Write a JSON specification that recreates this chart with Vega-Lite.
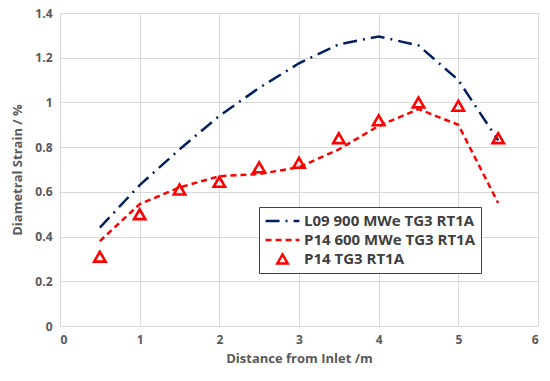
{
  "$schema": "https://vega.github.io/schema/vega-lite/v6.json",
  "width": 478,
  "height": 313,
  "autosize": {"type": "none"},
  "padding": {"left": 60, "top": 13, "right": 12, "bottom": 55},
  "background": "white",
  "config": {
    "view": {"stroke": null},
    "font": "Open Sans",
    "axis": {
      "labelFont": "Open Sans", "labelFontWeight": "bold", "labelColor": "#595959", "labelFontSize": 12,
      "titleFont": "Open Sans", "titleFontWeight": "bold", "titleColor": "#595959", "titleFontSize": 13,
      "gridColor": "#d9d9d9", "domainColor": "#d9d9d9", "ticks": false, "labelPadding": 8
    }
  },
  "datasets": {
    "lines": [
      {"x": 0.5, "y": 0.44, "series": "L09 900 MWe TG3 RT1A"},
      {"x": 1.0, "y": 0.63, "series": "L09 900 MWe TG3 RT1A"},
      {"x": 1.5, "y": 0.79, "series": "L09 900 MWe TG3 RT1A"},
      {"x": 2.0, "y": 0.94, "series": "L09 900 MWe TG3 RT1A"},
      {"x": 2.5, "y": 1.065, "series": "L09 900 MWe TG3 RT1A"},
      {"x": 3.0, "y": 1.175, "series": "L09 900 MWe TG3 RT1A"},
      {"x": 3.5, "y": 1.26, "series": "L09 900 MWe TG3 RT1A"},
      {"x": 4.0, "y": 1.295, "series": "L09 900 MWe TG3 RT1A"},
      {"x": 4.5, "y": 1.255, "series": "L09 900 MWe TG3 RT1A"},
      {"x": 5.0, "y": 1.1, "series": "L09 900 MWe TG3 RT1A"},
      {"x": 5.5, "y": 0.83, "series": "L09 900 MWe TG3 RT1A"},
      {"x": 0.5, "y": 0.38, "series": "P14 600 MWe TG3 RT1A"},
      {"x": 1.0, "y": 0.545, "series": "P14 600 MWe TG3 RT1A"},
      {"x": 1.5, "y": 0.62, "series": "P14 600 MWe TG3 RT1A"},
      {"x": 2.0, "y": 0.67, "series": "P14 600 MWe TG3 RT1A"},
      {"x": 2.5, "y": 0.68, "series": "P14 600 MWe TG3 RT1A"},
      {"x": 3.0, "y": 0.71, "series": "P14 600 MWe TG3 RT1A"},
      {"x": 3.5, "y": 0.79, "series": "P14 600 MWe TG3 RT1A"},
      {"x": 4.0, "y": 0.895, "series": "P14 600 MWe TG3 RT1A"},
      {"x": 4.5, "y": 0.97, "series": "P14 600 MWe TG3 RT1A"},
      {"x": 5.0, "y": 0.9, "series": "P14 600 MWe TG3 RT1A"},
      {"x": 5.5, "y": 0.55, "series": "P14 600 MWe TG3 RT1A"}
    ],
    "points": [
      {"x": 0.5, "y": 0.31, "series": "P14 TG3 RT1A"},
      {"x": 1.0, "y": 0.50, "series": "P14 TG3 RT1A"},
      {"x": 1.5, "y": 0.61, "series": "P14 TG3 RT1A"},
      {"x": 2.0, "y": 0.645, "series": "P14 TG3 RT1A"},
      {"x": 2.5, "y": 0.71, "series": "P14 TG3 RT1A"},
      {"x": 3.0, "y": 0.73, "series": "P14 TG3 RT1A"},
      {"x": 3.5, "y": 0.84, "series": "P14 TG3 RT1A"},
      {"x": 4.0, "y": 0.92, "series": "P14 TG3 RT1A"},
      {"x": 4.5, "y": 1.0, "series": "P14 TG3 RT1A"},
      {"x": 5.0, "y": 0.985, "series": "P14 TG3 RT1A"},
      {"x": 5.5, "y": 0.84, "series": "P14 TG3 RT1A"}
    ]
  },
  "encoding": {
    "x": {"field": "x", "type": "quantitative", "scale": {"domain": [0, 6]},
          "axis": {"title": "Distance from Inlet /m", "tickCount": 6, "grid": true, "titlePadding": 7}},
    "y": {"field": "y", "type": "quantitative", "scale": {"domain": [0, 1.4]},
          "axis": {"title": "Diametral Strain / %", "values": [0, 0.2, 0.4, 0.6, 0.8, 1, 1.2, 1.4], "format": "~g", "titlePadding": 10}},
    "color": {"field": "series", "type": "nominal",
      "scale": {"domain": ["L09 900 MWe TG3 RT1A", "P14 600 MWe TG3 RT1A", "P14 TG3 RT1A"], "range": ["#002060", "#ff0000", "#ff0000"]},
      "legend": {"title": null, "orient": "none", "legendX": 199, "legendY": 194,
        "strokeColor": "#404040", "fillColor": "white", "padding": 5,
        "labelFont": "Open Sans", "labelFontWeight": "bold", "labelColor": "#404040", "labelFontSize": 15,
        "symbolSize": 1150, "symbolStrokeWidth": 2.5, "rowPadding": 1, "clipHeight": 18, "labelLimit": 300, "labelOffset": 3,
        "symbolFillColor": "transparent", "symbolOpacity": 1,
        "encode": {"symbols": {"update": {
          "size": {"signal": "datum.value == 'P14 TG3 RT1A' ? 110 : 1150"},
          "fillOpacity": {"value": 0},
          "opacity": {"value": 1}
        }}}}}
  },
  "layer": [
    {
      "data": {"name": "lines"},
      "mark": {"type": "line", "strokeWidth": 2.5},
      "encoding": {
        "strokeDash": {"field": "series", "type": "nominal",
          "scale": {"domain": ["L09 900 MWe TG3 RT1A", "P14 600 MWe TG3 RT1A", "P14 TG3 RT1A"], "range": [[14, 6, 2, 6], [6, 4], [1, 0]]}},
        "shape": {"field": "series", "type": "nominal",
          "scale": {"domain": ["L09 900 MWe TG3 RT1A", "P14 600 MWe TG3 RT1A", "P14 TG3 RT1A"], "range": ["stroke", "stroke", "triangle-up"]}}
      }
    },
    {
      "data": {"name": "points"},
      "mark": {"type": "point", "filled": false, "strokeWidth": 2.6, "size": 130, "opacity": 1},
      "encoding": {
        "shape": {"field": "series", "type": "nominal"}
      }
    }
  ]
}
